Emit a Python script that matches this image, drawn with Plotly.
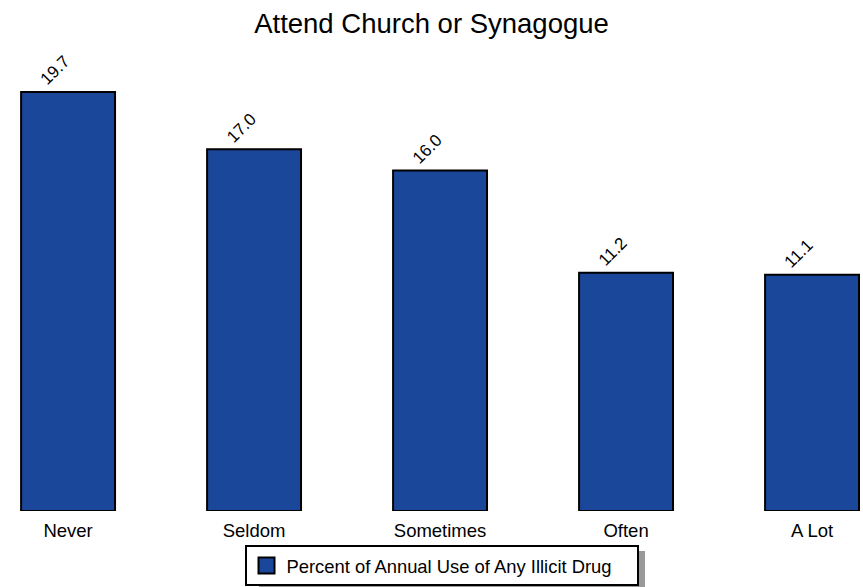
import plotly.graph_objects as go

categories = ["Never", "Seldom", "Sometimes", "Often", "A Lot"]
values = [19.7, 17.0, 16.0, 11.2, 11.1]
labels = ["19.7", "17.0", "16.0", "11.2", "11.1"]
series_name = "Percent of Annual Use of Any Illicit Drug"
title = "Attend Church or Synagogue"

BAR_COLOR = "#1B479A"
FONT = "Liberation Sans, Arial"

fig = go.Figure()
fig.add_trace(go.Bar(
    x=categories, y=values, name=series_name, showlegend=False,
    marker=dict(color=BAR_COLOR, line=dict(color="black", width=2)),
    width=0.505, cliponaxis=False, hoverinfo="skip",
))
# legend entry
fig.add_trace(go.Scatter(
    x=[None], y=[None], mode="markers", name=series_name,
    marker=dict(symbol="square", size=18, color=BAR_COLOR,
                line=dict(color="black", width=2)),
))

annotations = [
    dict(x=c, y=v, text=t, textangle=-45, showarrow=False,
         xanchor="center", yanchor="middle", xshift=-13, yshift=21,
         font=dict(size=17, color="black", family=FONT))
    for c, v, t in zip(categories, values, labels)
]

fig.update_layout(
    width=863, height=587,
    paper_bgcolor="white", plot_bgcolor="white",
    margin=dict(l=0, r=0, t=80, b=76, autoexpand=False),
    font=dict(family=FONT, color="black"),
    title=dict(text=title, x=0.5, xanchor="center", y=1 - 23 / 587, yanchor="middle",
               font=dict(size=27.5, color="black")),
    xaxis=dict(range=[-0.366, 4.274], showgrid=False, showline=False, ticks="",
               tickfont=dict(size=18.5), zeroline=False, fixedrange=True,
               ticklabelstandoff=6),
    yaxis=dict(range=[0, 20.26], visible=False, fixedrange=True),
    showlegend=True,
    legend=dict(orientation="h", x=441.5 / 863, xanchor="center", y=(511 - 545) / 431,
                yanchor="top", bordercolor="black", borderwidth=2, bgcolor="white",
                font=dict(size=18.4), entrywidth=345, entrywidthmode="pixels"),
    annotations=annotations,
    shapes=[dict(type="rect", xref="paper", yref="paper",
                 x0=0.30, x1=645 / 863, y0=-0.19, y1=(511 - 551) / 431,
                 fillcolor="#999999", line=dict(width=0), layer="above")],
)

fig.write_html("out.html", config={"displayModeBar": False},
               post_script="document.body.style.margin='0px';")
